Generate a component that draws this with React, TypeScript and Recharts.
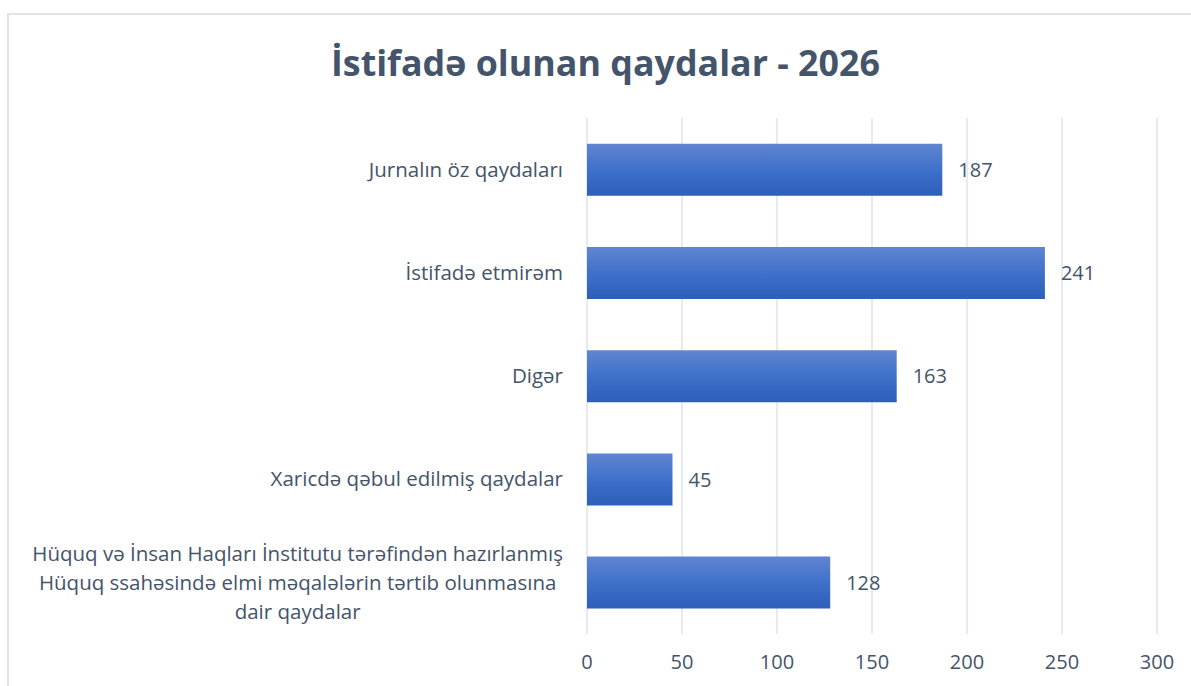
import { Bar, BarChart, CartesianGrid, LabelList, XAxis, YAxis } from 'recharts';

const categories = [
  'Jurnalın öz qaydaları',
  'İstifadə etmirəm',
  'Digər',
  'Xaricdə qəbul edilmiş qaydalar',
  'Hüquq və İnsan Haqları İnstitutu tərəfindən hazırlanmış\nHüquq ssahəsində elmi məqalələrin tərtib olunmasına\ndair qaydalar',
];
const counts = [187, 241, 163, 45, 128];
const xTicks = [0, 50, 100, 150, 200, 250, 300];

const FONT = '"Open Sans", sans-serif';
const TEXT = '#44546A';

const data = categories.map((name, i) => ({ name, value: counts[i] }));

let canvas: HTMLCanvasElement | null = null;
function measure(text: string, font: string): number {
  if (!canvas) canvas = document.createElement('canvas');
  const ctx = canvas.getContext('2d');
  if (!ctx) return text.length * 8;
  ctx.font = font;
  return ctx.measureText(text).width;
}

function CategoryTick(props: any) {
  const { x, y, payload } = props;
  const lines: string[] = String(payload.value).split('\n');
  const size = 20.5;
  const lineH = 29;
  const right = x - 16;
  const widest = Math.max(...lines.map((l) => measure(l, `${size}px ${FONT}`)));
  const cx = right - widest / 2;
  const top = y - ((lines.length - 1) * lineH) / 2;
  return (
    <g>
      {lines.map((l, i) => (
        <text
          key={i}
          x={cx}
          y={top + i * lineH}
          dy="0.35em"
          textAnchor="middle"
          fill={TEXT}
          fontSize={size}
          fontFamily={FONT}
        >
          {l}
        </text>
      ))}
    </g>
  );
}

export default function App() {
  return (
    <div style={{ position: 'fixed', left: 0, top: 0, width: 1191, height: 686, overflow: 'hidden', background: '#fff' }}>
      <div
        style={{
          position: 'absolute',
          left: 7,
          top: 13,
          width: 1220,
          height: 720,
          border: '2px solid #E1E5EA',
          boxSizing: 'border-box',
        }}
      />
      <div
        style={{
          position: 'absolute',
          left: 0,
          top: 37,
          width: 1191,
          textAlign: 'center',
          paddingLeft: 20,
          boxSizing: 'border-box',
          fontFamily: FONT,
          fontWeight: 700,
          fontSize: 35.8,
          color: TEXT,
          lineHeight: '50px',
        }}
      >
        İstifadə olunan qaydalar - 2026
      </div>
      <div style={{ position: 'absolute', left: 0, top: 0 }}>
        <BarChart
          width={1191}
          height={686}
          data={data}
          layout="vertical"
          barCategoryGap="25%"
          margin={{ top: 118, right: 34, bottom: 12, left: 0 }}
        >
          <defs>
            <linearGradient id="barFill" x1="0" y1="0" x2="0" y2="1">
              <stop offset="0%" stopColor="#6085D0" />
              <stop offset="50%" stopColor="#3F71CB" />
              <stop offset="100%" stopColor="#2D5EBA" />
            </linearGradient>
          </defs>
          <CartesianGrid horizontal={false} stroke="#DFE3E9" strokeWidth={1.5} />
          <XAxis
            type="number"
            domain={[0, 300]}
            ticks={xTicks}
            axisLine={false}
            tickLine={false}
            height={40}
            tickMargin={15}
            tick={{ fill: TEXT, fontSize: 20, fontFamily: FONT }}
          />
          <YAxis
            type="category"
            dataKey="name"
            width={587}
            axisLine={false}
            tickLine={false}
            interval={0}
            tick={<CategoryTick />}
          />
          <Bar dataKey="value" fill="url(#barFill)" isAnimationActive={false}>
            <LabelList
              dataKey="value"
              position="right"
              offset={16}
              fill={TEXT}
              fontSize={20}
              fontFamily={FONT}
            />
          </Bar>
        </BarChart>
      </div>
    </div>
  );
}
